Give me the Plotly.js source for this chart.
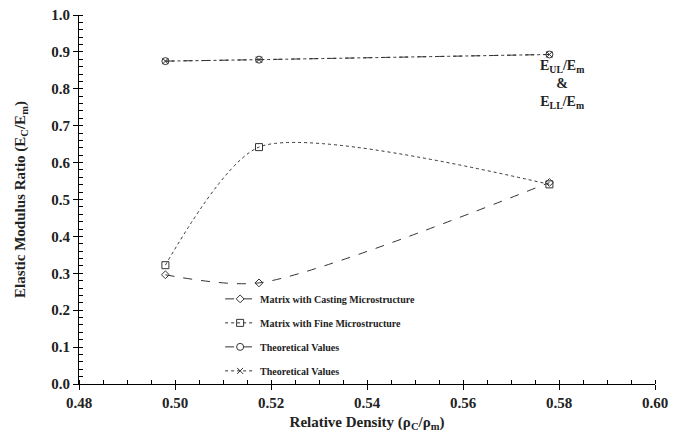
<!DOCTYPE html>
<html>
<head>
<meta charset="utf-8">
<script src="https://cdn.plot.ly/plotly-3.0.1.min.js"></script>
<style>html,body{margin:0;padding:0;background:#fff;}#chart{width:685px;height:441px;}</style>
</head>
<body>
<div id="chart"></div>
<script>
const density = [0.498, 0.5175, 0.578];
const castingRatio = [0.296, 0.274, 0.546];
const fineRatio = [0.322, 0.642, 0.541];
const theoUpper = [0.875, 0.879, 0.893];
const theoLower = [0.875, 0.879, 0.893];
const seriesNames = ["Matrix with Casting Microstructure", "Matrix with Fine Microstructure", "Theoretical Values", "Theoretical Values"];
const xTicks = [0.48, 0.50, 0.52, 0.54, 0.56, 0.58, 0.60];
const xTickText = ["0.48", "0.50", "0.52", "0.54", "0.56", "0.58", "0.60"];
const yTicks = [0.0, 0.1, 0.2, 0.3, 0.4, 0.5, 0.6, 0.7, 0.8, 0.9, 1.0];
const yTickText = ["0.0", "0.1", "0.2", "0.3", "0.4", "0.5", "0.6", "0.7", "0.8", "0.9", "1.0"];

const serif = "Liberation Serif, Times New Roman, serif";
const lineCol = "#333";

function tr(y, name, dash, symbol, msize, grp, smooth) {
  return {
    x: density, y: y, name: name, mode: "lines+markers", type: "scatter",
    legendgroup: grp,
    line: {color: lineCol, width: 1, dash: dash, shape: "spline", smoothing: smooth},
    marker: {symbol: symbol, size: msize, color: lineCol, line: {color: lineCol, width: 1}}
  };
}

const data = [
  tr(castingRatio, seriesNames[0], "dash", "diamond-open", 6, "a", 0.75),
  tr(fineRatio, seriesNames[1], "dot", "square-open", 7, "b", 0.7),
  tr(theoUpper, seriesNames[2], "dash", "circle-open", 7, "c", 0.7),
  tr(theoLower, seriesNames[3], "dot", "x-thin-open", 6, "d", 0.7)
];

const axisCommon = {
  showgrid: false, zeroline: false, showline: true, linecolor: "#000", linewidth: 1,
  ticks: "outside", ticklen: 5, tickcolor: "#000", tickwidth: 1,
  tickfont: {family: serif, size: 15, color: "#222", weight: "bold"}
};

const layout = {
  width: 685, height: 441,
  margin: {l: 79, r: 30, t: 15, b: 57},
  paper_bgcolor: "#fff", plot_bgcolor: "#fff",
  showlegend: true,
  legend: {
    x: 0.245, y: 0.27, xanchor: "left", yanchor: "top",
    bgcolor: "rgba(0,0,0,0)", tracegroupgap: 5,
    font: {family: serif, size: 10, color: "#222", weight: "bold"}
  },
  xaxis: Object.assign({}, axisCommon, {
    range: [0.48, 0.60], tickmode: "array", tickvals: xTicks, ticktext: xTickText,
    minor: {dtick: 0.005, ticks: "inside", ticklen: 4, tickcolor: "#000"},
    title: {text: "Relative Density (ρ<sub>C</sub>/ρ<sub>m</sub>)", standoff: 6,
      font: {family: serif, size: 15, color: "#222", weight: "bold"}}
  }),
  yaxis: Object.assign({}, axisCommon, {
    range: [0, 1.0], tickmode: "array", tickvals: yTicks, ticktext: yTickText,
    minor: {dtick: 0.02, ticks: "inside", ticklen: 4, tickcolor: "#000"},
    title: {text: "Elastic Modulus Ratio (E<sub>C</sub>/E<sub>m</sub>)", standoff: 22,
      font: {family: serif, size: 15, color: "#222", weight: "bold"}}
  }),
  annotations: [{
    x: 0.5806, y: 0.813, xref: "x", yref: "y", showarrow: false,
    text: "E<sub>UL</sub>/E<sub>m</sub><br>&<br>E<sub>LL</sub>/E<sub>m</sub>",
    align: "center",
    font: {family: serif, size: 14, color: "#222", weight: "bold"}
  }]
};

Plotly.newPlot("chart", data, layout, {displayModeBar: false, staticPlot: true});
</script>
</body>
</html>
